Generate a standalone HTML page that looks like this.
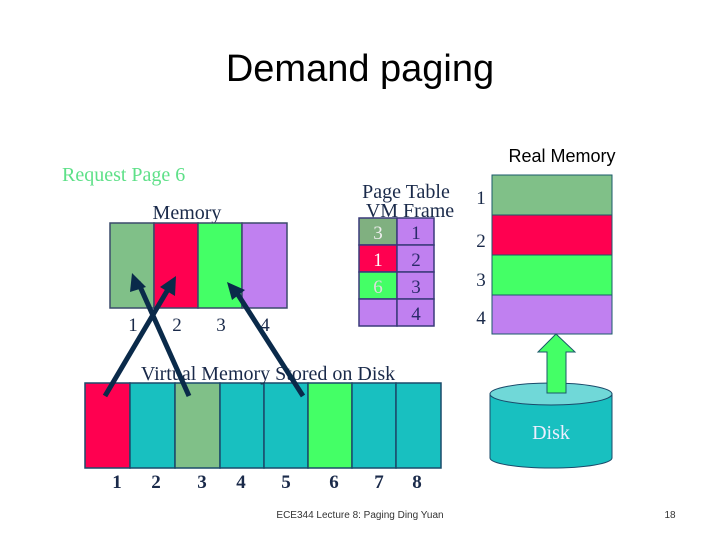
<!DOCTYPE html><html><head><style>body{margin:0;background:#fff}svg{display:block}</style></head><body>
<svg width="720" height="540" xmlns="http://www.w3.org/2000/svg">
<text x="360" y="81" font-family="Liberation Sans, sans-serif" font-size="38" text-anchor="middle" fill="#000">Demand paging</text>
<text x="562" y="162" font-family="Liberation Sans, sans-serif" font-size="18" text-anchor="middle">Real Memory</text>
<g font-family="Liberation Serif, serif">
<text x="62" y="181" font-size="20" fill="#5ee088">Request Page 6</text>
<text x="187" y="219" font-size="20" fill="#1a2a4a" text-anchor="middle">Memory</text>
<g stroke="#3a4a6a" stroke-width="1.5">
<rect x="110" y="223" width="44" height="85" fill="#80c088"/>
<rect x="154" y="223" width="44" height="85" fill="#ff0050"/>
<rect x="198" y="223" width="44" height="85" fill="#44ff66"/>
<rect x="242" y="223" width="45" height="85" fill="#c080f0"/>
</g>
<g font-size="19" fill="#1a2a4a" text-anchor="middle"><text x="133" y="331">1</text><text x="177" y="331">2</text><text x="221" y="331">3</text><text x="265" y="331">4</text></g>
<text x="406" y="198" font-size="20" fill="#1a2a4a" text-anchor="middle">Page Table</text>
<text x="410" y="217" font-size="20" fill="#1a2a4a" text-anchor="middle">VM  Frame</text>
<g stroke="#3a3a7a" stroke-width="1.5">
<rect x="359" y="218" width="38" height="27" fill="#80b080"/><rect x="397" y="218" width="37" height="27" fill="#c080f0"/>
<rect x="359" y="245" width="38" height="27" fill="#ff0050"/><rect x="397" y="245" width="37" height="27" fill="#c080f0"/>
<rect x="359" y="272" width="38" height="27" fill="#44ff66"/><rect x="397" y="272" width="37" height="27" fill="#c080f0"/>
<rect x="359" y="299" width="38" height="27" fill="#c080f0"/><rect x="397" y="299" width="37" height="27" fill="#c080f0"/>
</g>
<g font-size="19" text-anchor="middle">
<text x="378" y="239" fill="#eee">3</text><text x="416" y="239" fill="#2a2a6a">1</text>
<text x="378" y="266" fill="#fff">1</text><text x="416" y="266" fill="#2a2a6a">2</text>
<text x="378" y="293" fill="#ddd">6</text><text x="416" y="293" fill="#2a2a6a">3</text>
<text x="416" y="320" fill="#2a2a6a">4</text>
</g>
<g font-size="19" fill="#1a2a4a" text-anchor="middle"><text x="481" y="204">1</text><text x="481" y="247">2</text><text x="481" y="286">3</text><text x="481" y="324">4</text></g>
<g stroke="#1a5a6a" stroke-width="1">
<rect x="492" y="175" width="120" height="40" fill="#80c088"/>
<rect x="492" y="215" width="120" height="40" fill="#ff0050"/>
<rect x="492" y="255" width="120" height="40" fill="#44ff66"/>
<rect x="492" y="295" width="120" height="39" fill="#c080f0"/>
</g>
<g stroke="#1a4a6a" stroke-width="1.5">
<rect x="85" y="383" width="45" height="85" fill="#ff0050"/>
<rect x="130" y="383" width="45" height="85" fill="#18c0c0"/>
<rect x="175" y="383" width="45" height="85" fill="#80c088"/>
<rect x="220" y="383" width="44" height="85" fill="#18c0c0"/>
<rect x="264" y="383" width="44" height="85" fill="#18c0c0"/>
<rect x="308" y="383" width="44" height="85" fill="#44ff66"/>
<rect x="352" y="383" width="44" height="85" fill="#18c0c0"/>
<rect x="396" y="383" width="45" height="85" fill="#18c0c0"/>
</g>
<text x="268" y="380" font-size="20" fill="#1a2a4a" text-anchor="middle">Virtual Memory Stored on Disk</text>
<g font-size="19" font-weight="bold" fill="#1a2a4a" text-anchor="middle"><text x="117" y="488">1</text><text x="156" y="488">2</text><text x="202" y="488">3</text><text x="241" y="488">4</text><text x="286" y="488">5</text><text x="334" y="488">6</text><text x="379" y="488">7</text><text x="417" y="488">8</text></g>
<g stroke="#0a2a4a" stroke-width="5" fill="#0a2a4a">
<line x1="105" y1="396" x2="170" y2="286"/><line x1="189" y1="396" x2="138" y2="282"/><line x1="303" y1="396" x2="235" y2="290"/>
</g>
<g fill="#0a2a4a">
<polygon points="176,276 175,296 160,287"/>
<polygon points="132,273 146,287 130,292"/>
<polygon points="227,282 245,290 232,300"/>
</g>
<path d="M490,394 L490,458 A61,10 0 0 0 612,458 L612,394 Z" fill="#18c0c0" stroke="#1a4a6a"/>
<ellipse cx="551" cy="394" rx="61" ry="11" fill="#70d8d8" stroke="#1a4a6a"/>
<polygon points="556,334 575,352 566,352 566,393 547,393 547,352 538,352" fill="#44ff66" stroke="#1a5a6a"/>
<text x="551" y="439" font-size="20" fill="#eef" text-anchor="middle">Disk</text>
</g>
<text x="360" y="518" font-family="Liberation Sans, sans-serif" font-size="10" fill="#333" text-anchor="middle">ECE344 Lecture 8: Paging Ding Yuan</text>
<text x="670" y="518" font-family="Liberation Sans, sans-serif" font-size="10" fill="#333" text-anchor="middle">18</text>
</svg></body></html>
